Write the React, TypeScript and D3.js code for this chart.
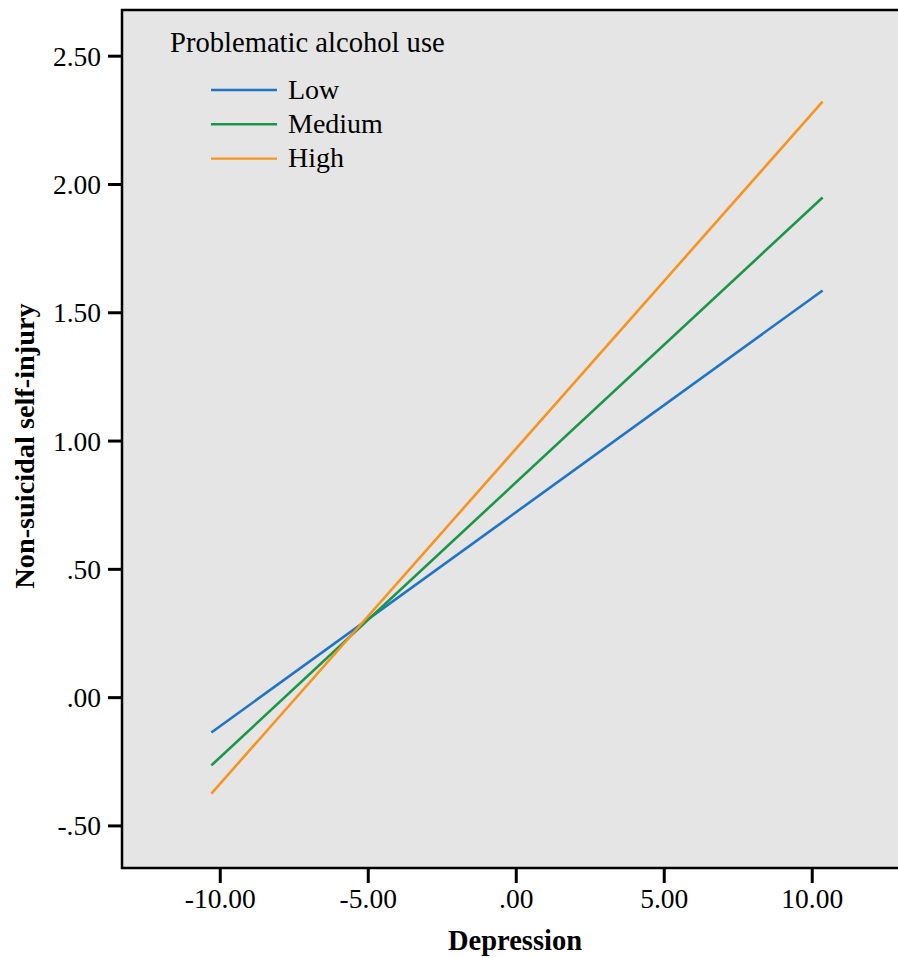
import React from 'react';
import * as d3 from 'd3';

const depressionX = [-10.3, 10.35];
const lowValues = [-0.136, 1.587];
const mediumValues = [-0.264, 1.949];
const highValues = [-0.374, 2.323];

const seriesNames = ['Low', 'Medium', 'High'];
const seriesColors = ['#1F74C4', '#1B9649', '#F7931E'];

const yTicks = [2.5, 2.0, 1.5, 1.0, 0.5, 0.0, -0.5];
const yTickLabels = ['2.50', '2.00', '1.50', '1.00', '.50', '.00', '-.50'];
const xTicks = [-10, -5, 0, 5, 10];
const xTickLabels = ['-10.00', '-5.00', '.00', '5.00', '10.00'];

const W = 898;
const H = 958;
const margin = { top: 10, left: 122, bottom: 90 };
const font = '"Liberation Serif", "Times New Roman", serif';

export default function App() {
  const innerH = H - margin.top - margin.bottom;

  const xScale = d3.scaleLinear().domain([-13.32, 13.32]).range([margin.left, 910.5]);
  const yScale = d3.scaleLinear().domain([-0.664, 2.68]).range([H - margin.bottom, margin.top]);

  const line = d3.line<[number, number]>()
    .x(d => xScale(d[0]))
    .y(d => yScale(d[1]));

  const allSeries = [lowValues, mediumValues, highValues];

  return (
    <svg width={W} height={H} style={{ position: 'absolute', left: 0, top: 0, background: 'white' }}>
      {/* plot background */}
      <rect x={margin.left} y={margin.top} width={910.5 - margin.left} height={innerH}
        fill="#E5E5E5" stroke="#000" strokeWidth={2.5} />

      {/* series lines */}
      {allSeries.map((vals, i) => (
        <path key={i}
          d={line(depressionX.map((x, j) => [x, vals[j]] as [number, number])) || ''}
          fill="none" stroke={seriesColors[i]} strokeWidth={2.6} />
      ))}

      {/* y axis ticks */}
      {yTicks.map((t, i) => (
        <g key={i} transform={`translate(0,${yScale(t)})`}>
          <line x1={margin.left - 14} x2={margin.left} stroke="#000" strokeWidth={3} />
          <text x={101} y={9.5} textAnchor="end" fontFamily={font} fontSize={27.5} fill="#000">
            {yTickLabels[i]}
          </text>
        </g>
      ))}

      {/* x axis ticks */}
      {xTicks.map((t, i) => (
        <g key={i} transform={`translate(${xScale(t)},${H - margin.bottom})`}>
          <line y1={0} y2={15} stroke="#000" strokeWidth={3} />
          <text y={40} textAnchor="middle" fontFamily={font} fontSize={27.5} fill="#000">
            {xTickLabels[i]}
          </text>
        </g>
      ))}

      {/* axis titles */}
      <text x={515} y={950} textAnchor="middle" fontFamily={font} fontSize={28.5}
        fontWeight="bold" fill="#000">Depression</text>
      <text transform={`translate(34,${446}) rotate(-90)`} textAnchor="middle" fontFamily={font}
        fontSize={28.3} fontWeight="bold" fill="#000">Non-suicidal self-injury</text>

      {/* legend */}
      <text x={170} y={52} fontFamily={font} fontSize={28.6} fill="#000">Problematic alcohol use</text>
      {seriesNames.map((name, i) => (
        <g key={name} transform={`translate(0,${90 + i * 34.3})`}>
          <line x1={211} x2={277} stroke={seriesColors[i]} strokeWidth={2.4} />
          <text x={288} y={8.5} fontFamily={font} fontSize={28} fill="#000">{name}</text>
        </g>
      ))}
    </svg>
  );
}
